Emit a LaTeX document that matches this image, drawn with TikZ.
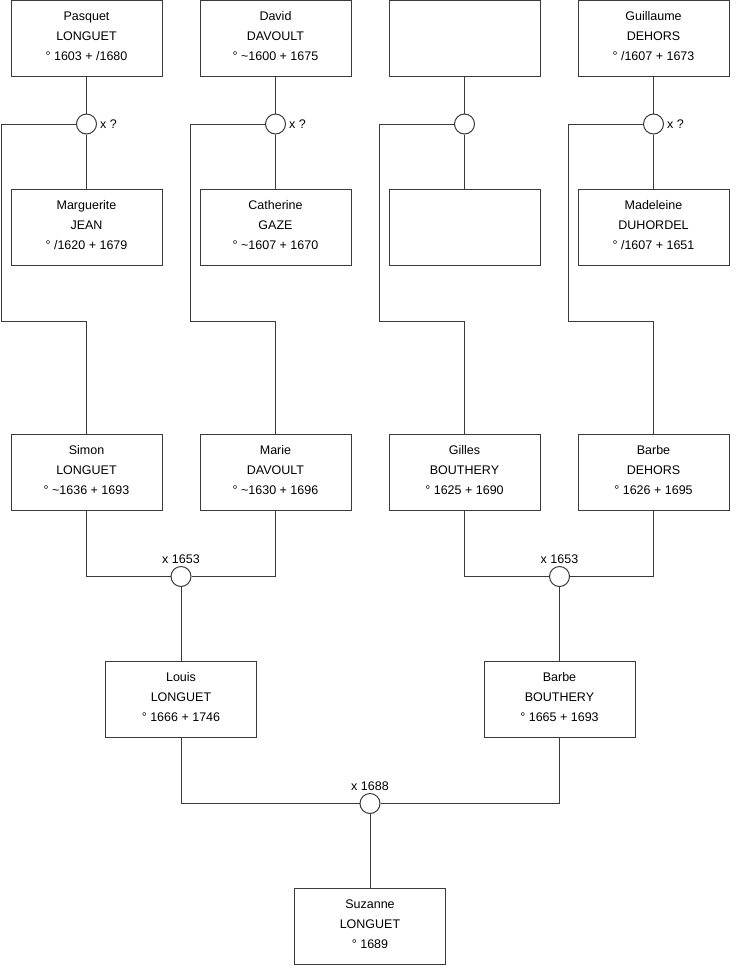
\documentclass[tikz,border=0pt]{standalone}
\usepackage{fontspec}
\setmainfont{Liberation Sans}
\definecolor{ln}{HTML}{3A3A3A}
\newcommand{\who}[3]{\raisebox{2pt}[\height][\depth]{\renewcommand{\arraystretch}{1}\begin{tabular}{@{}c@{}}#1\\#2\\#3\end{tabular}}}
\begin{document}
\begin{tikzpicture}[x=1pt,y=-1pt,
  person/.style={draw=ln, line width=1pt, rectangle, minimum width=151pt, minimum height=76pt, inner sep=0pt, align=center, font=\fontsize{12.5}{20}\selectfont, fill=white},
  union/.style={draw=ln, line width=1pt, circle, minimum size=20pt, inner sep=0pt, fill=white},
  lbl/.style={font=\fontsize{12.5}{14}\selectfont, inner sep=1pt},
  conn/.style={draw=ln, line width=1pt}]
\useasboundingbox (0,0) rectangle (740,975);
% top row
\node[person] (pasquet) at (86.5,38.5) {\who{Pasquet}{LONGUET}{° 1603 + /1680}};
\node[person] (david) at (275.5,38.5) {\who{David}{DAVOULT}{° \textasciitilde1600 + 1675}};
\node[person] (unk1) at (464.5,38.5) {};
\node[person] (guillaume) at (653.5,38.5) {\who{Guillaume}{DEHORS}{° /1607 + 1673}};
% unions top
\node[union] (u1) at (86.5,124) {};
\node[union] (u2) at (275.5,124) {};
\node[union] (u3) at (464.5,124) {};
\node[union] (u4) at (653.5,124) {};
\node[lbl, anchor=west] (lu1) at ([xshift=2pt]u1.east) {x ?};
\node[lbl, anchor=west] (lu2) at ([xshift=2pt]u2.east) {x ?};
\node[lbl, anchor=west] (lu4) at ([xshift=2pt]u4.east) {x ?};
% second row
\node[person] (marguerite) at (86.5,227) {\who{Marguerite}{JEAN}{° /1620 + 1679}};
\node[person] (catherine) at (275.5,227) {\who{Catherine}{GAZE}{° \textasciitilde1607 + 1670}};
\node[person] (unk2) at (464.5,227) {};
\node[person] (madeleine) at (653.5,227) {\who{Madeleine}{DUHORDEL}{° /1607 + 1651}};
% third row
\node[person] (simon) at (86.5,472.5) {\who{Simon}{LONGUET}{° \textasciitilde1636 + 1693}};
\node[person] (marie) at (275.5,472.5) {\who{Marie}{DAVOULT}{° \textasciitilde1630 + 1696}};
\node[person] (gilles) at (464.5,472.5) {\who{Gilles}{BOUTHERY}{° 1625 + 1690}};
\node[person] (barbe) at (653.5,472.5) {\who{Barbe}{DEHORS}{° 1626 + 1695}};
% corners
\coordinate (c1a) at (1,124); \coordinate (c1b) at (1,321);
\coordinate (c2a) at (190,124); \coordinate (c2b) at (190,321);
\coordinate (c3a) at (379,124); \coordinate (c3b) at (379,321);
\coordinate (c4a) at (568,124); \coordinate (c4b) at (568,321);
% connectors top
\draw[conn] (pasquet) -- (u1) -- (marguerite);
\draw[conn] (david) -- (u2) -- (catherine);
\draw[conn] (unk1) -- (u3) -- (unk2);
\draw[conn] (guillaume) -- (u4) -- (madeleine);
\draw[conn] (u1.west) -- (c1a) -- (c1b) -| (simon.north);
\draw[conn] (u2.west) -- (c2a) -- (c2b) -| (marie.north);
\draw[conn] (u3.west) -- (c3a) -- (c3b) -| (gilles.north);
\draw[conn] (u4.west) -- (c4a) -- (c4b) -| (barbe.north);
% middle unions
\node[union] (u5) at (181,576.5) {};
\node[union] (u6) at (559.5,576.5) {};
\node[lbl, anchor=south] (lu5) at ([yshift=1pt]u5.north) {x 1653};
\node[lbl, anchor=south] (lu6) at ([yshift=1pt]u6.north) {x 1653};
\draw[conn] (simon.south) |- (u5.west);
\draw[conn] (marie.south) |- (u5.east);
\draw[conn] (gilles.south) |- (u6.west);
\draw[conn] (barbe.south) |- (u6.east);
% fourth row
\node[person] (louis) at (181,699.5) {\who{Louis}{LONGUET}{° 1666 + 1746}};
\node[person] (barbeb) at (559.5,699.5) {\who{Barbe}{BOUTHERY}{° 1665 + 1693}};
\draw[conn] (u5) -- (louis);
\draw[conn] (u6) -- (barbeb);
% bottom union
\node[union] (u7) at (370,803.5) {};
\node[lbl, anchor=south] (lu7) at ([yshift=1pt]u7.north) {x 1688};
\draw[conn] (louis.south) |- (u7.west);
\draw[conn] (barbeb.south) |- (u7.east);
\node[person] (suzanne) at (370,926) {\who{Suzanne}{LONGUET}{° 1689}};
\draw[conn] (u7) -- (suzanne);
\end{tikzpicture}
\end{document}
